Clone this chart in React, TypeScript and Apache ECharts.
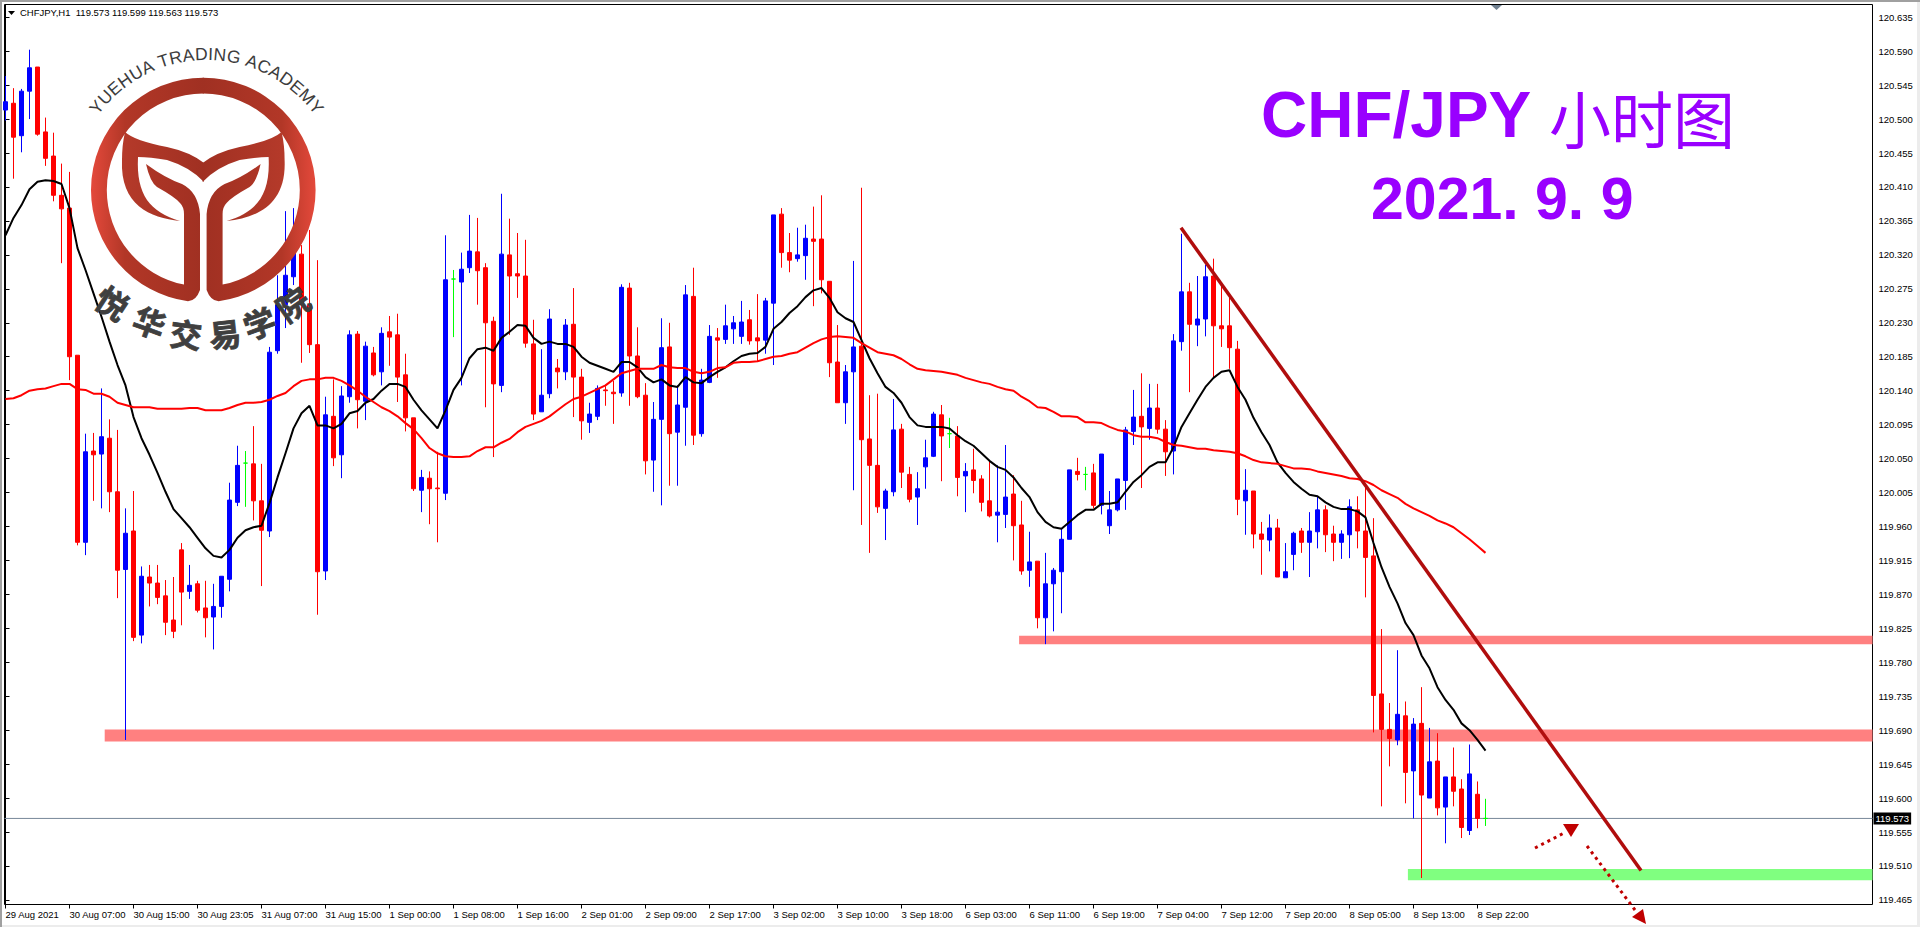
import React, { useEffect, useRef } from "react";
import * as echarts from "echarts";

const opens = [120.512,120.521,120.478,120.537,120.569,120.483,120.451,120.399,120.382,120.187,
119.939,120.060,120.056,120.077,120.006,119.903,119.954,119.816,119.893,119.885,
119.868,119.836,119.929,119.874,119.884,119.852,119.840,119.854,119.890,119.992,
120.044,120.043,119.994,119.954,120.193,120.254,120.291,120.321,120.254,120.201,
119.901,120.106,120.055,120.132,120.215,120.126,120.190,120.165,120.218,120.214,
120.161,120.104,120.008,120.024,120.011,120.004,120.288,120.284,120.303,120.324,
120.303,120.232,120.147,120.320,120.295,120.292,120.202,120.112,120.136,120.170,
120.165,120.228,120.158,120.098,120.106,120.141,120.138,120.137,120.276,120.186,
120.134,120.048,120.102,120.198,120.085,120.118,120.265,120.083,120.151,120.210,
120.208,120.222,120.212,120.234,120.210,120.207,120.256,120.374,120.323,120.315,
120.319,120.341,120.341,120.285,120.178,120.124,120.165,120.199,120.076,120.041,
119.984,120.006,120.089,120.029,119.999,120.039,120.053,120.108,120.083,120.080,
120.027,120.035,120.023,119.994,119.975,119.976,120.003,119.962,119.902,119.914,
119.839,119.884,119.900,119.943,120.033,120.029,120.031,119.988,119.961,119.982,
120.021,120.086,120.106,120.090,120.117,120.089,120.060,120.205,120.271,120.227,
120.235,120.292,120.226,120.226,120.195,119.994,120.007,119.950,119.942,119.958,
119.892,119.923,119.954,119.939,119.953,119.982,119.950,119.939,119.949,119.982,
119.954,119.921,119.738,119.691,119.677,119.709,119.636,119.699,119.600,119.649,
119.588,119.628,119.612,119.557,119.605,119.573];

const closes = [120.523,120.476,120.537,120.568,120.480,120.448,120.399,120.381,120.185,119.939,
120.059,120.055,120.079,120.006,119.902,119.951,119.813,119.894,119.885,119.866,
119.833,119.821,119.873,119.882,119.849,119.839,119.854,119.894,119.995,120.041,
120.044,119.994,119.955,120.191,120.254,120.293,120.323,120.254,120.201,119.900,
120.108,120.051,120.133,120.214,120.128,120.199,120.161,120.216,120.211,120.158,
120.104,120.010,120.025,120.010,120.010,120.287,120.288,120.301,120.325,120.299,
120.230,120.149,120.321,120.292,120.292,120.203,120.109,120.134,120.235,120.165,
120.227,120.158,120.100,120.109,120.143,120.140,120.136,120.277,120.186,120.132,
120.047,120.102,120.197,120.083,120.121,120.267,120.081,120.154,120.212,120.207,
120.226,120.230,120.231,120.206,120.206,120.259,120.373,120.323,120.313,120.320,
120.342,120.338,120.287,120.177,120.124,120.165,120.198,120.075,120.041,119.986,
120.007,120.088,120.032,119.996,120.010,120.051,120.109,120.080,120.083,120.025,
120.033,120.021,119.992,119.974,119.979,119.999,119.961,119.901,119.913,119.839,
119.884,119.902,119.943,120.035,120.029,120.029,119.988,120.056,119.982,120.023,
120.088,120.105,120.092,120.117,120.089,120.059,120.206,120.271,120.228,120.235,
120.291,120.226,120.222,120.197,119.996,120.008,119.950,119.943,119.958,119.893,
119.900,119.951,119.939,119.954,119.982,119.949,119.939,119.950,119.986,119.954,
119.919,119.736,119.691,119.679,119.711,119.634,119.698,119.604,119.648,119.587,
119.628,119.609,119.561,119.632,119.573,119.573];

const highs = [120.557,120.541,120.540,120.592,120.569,120.502,120.482,120.441,120.430,120.187,
120.083,120.084,120.143,120.102,120.088,119.984,120.007,119.907,119.909,119.909,
119.889,119.893,119.938,119.909,119.888,119.888,119.884,119.894,120.018,120.067,
120.060,120.093,120.043,120.198,120.293,120.378,120.382,120.333,120.353,120.313,
120.132,120.155,120.146,120.220,120.219,120.205,120.198,120.224,120.239,120.242,
120.189,120.104,120.035,120.033,120.059,120.346,120.300,120.323,120.373,120.369,
120.309,120.238,120.401,120.368,120.349,120.340,120.234,120.195,120.248,120.182,
120.235,120.276,120.169,120.124,120.147,120.146,120.153,120.281,120.283,120.224,
120.150,120.125,120.236,120.230,120.147,120.280,120.303,120.169,120.227,120.223,
120.254,120.239,120.259,120.247,120.268,120.263,120.373,120.382,120.349,120.356,
120.360,120.384,120.399,120.285,120.227,120.174,120.312,120.409,120.134,120.136,
120.010,120.129,120.096,120.039,120.032,120.075,120.112,120.121,120.104,120.093,
120.044,120.063,120.028,120.047,120.041,120.068,120.028,119.994,119.953,119.914,
119.925,119.905,119.958,120.035,120.051,120.039,120.043,120.056,120.007,120.023,
120.092,120.141,120.163,120.149,120.149,120.101,120.215,120.348,120.283,120.292,
120.307,120.315,120.283,120.263,120.206,120.036,120.007,119.966,119.976,119.970,
119.938,119.953,119.958,119.979,120.000,119.988,119.961,119.955,119.996,120.000,
120.014,119.971,119.824,119.726,119.796,119.728,119.706,119.747,119.693,119.686,
119.628,119.667,119.625,119.671,119.622,119.599];

const lows = [120.498,120.421,120.456,120.500,120.478,120.438,120.391,120.309,120.154,119.935,
119.922,119.994,119.984,119.979,119.865,119.677,119.808,119.805,119.854,119.857,
119.816,119.812,119.829,119.864,119.846,119.813,119.797,119.839,119.874,119.987,
119.986,119.968,119.881,119.946,120.189,120.223,120.280,120.177,120.190,119.843,
119.889,120.040,120.024,120.124,120.090,120.101,120.159,120.147,120.173,120.125,
120.086,120.007,119.979,119.963,119.939,119.995,120.211,120.147,120.296,120.254,
120.118,120.052,120.138,120.214,120.263,120.197,120.101,120.112,120.130,120.143,
120.154,120.105,120.075,120.084,120.101,120.120,120.096,120.132,120.120,120.130,
120.029,120.006,119.988,120.014,120.014,120.067,120.068,120.079,120.150,120.157,
120.202,120.202,120.202,120.201,120.179,120.189,120.174,120.303,120.297,120.311,
120.287,120.252,120.269,120.158,120.124,120.096,120.008,119.962,119.925,119.978,
119.942,120.000,120.011,119.992,119.962,120.010,120.052,120.020,120.064,120.000,
119.979,120.004,119.980,119.972,119.939,119.958,119.915,119.896,119.880,119.825,
119.804,119.821,119.845,119.943,120.021,120.008,119.984,119.976,119.950,119.980,
119.982,120.068,120.011,120.075,120.083,120.027,120.029,120.193,120.138,120.199,
120.212,120.157,120.198,120.169,119.975,119.949,119.931,119.896,119.927,119.893,
119.892,119.902,119.925,119.893,119.931,119.926,119.914,119.917,119.918,119.931,
119.866,119.687,119.589,119.642,119.670,119.593,119.573,119.494,119.600,119.577,
119.540,119.589,119.547,119.551,119.560,119.563];

const fastMA = [120.346,120.369,120.386,120.407,120.417,120.419,120.418,120.414,120.382,120.329,
120.300,120.269,120.238,120.205,120.174,120.147,120.105,120.077,120.055,120.031,
120.006,119.983,119.971,119.959,119.945,119.931,119.921,119.919,119.929,119.945,
119.955,119.959,119.961,119.991,120.025,120.057,120.090,120.110,120.120,120.094,
120.094,120.090,120.096,120.110,120.113,120.124,120.129,120.140,120.149,120.149,
120.145,120.128,120.114,120.102,120.090,120.114,120.141,120.157,120.183,120.195,
120.197,120.193,120.210,120.218,120.227,120.226,120.210,120.202,120.205,120.202,
120.202,120.198,120.185,120.177,120.173,120.169,120.165,120.178,120.178,120.171,
120.158,120.151,120.155,120.147,120.145,120.158,120.151,120.150,120.158,120.165,
120.171,120.179,120.186,120.189,120.190,120.198,120.222,120.231,120.243,120.252,
120.264,120.273,120.276,120.263,120.244,120.236,120.231,120.207,120.183,120.163,
120.145,120.137,120.124,120.105,120.094,120.092,120.092,120.092,120.090,120.081,
120.073,120.067,120.057,120.047,120.039,120.035,120.025,120.011,119.999,119.979,
119.966,119.959,119.957,119.966,119.975,119.982,119.982,119.990,119.990,119.992,
120.006,120.019,120.028,120.039,120.045,120.045,120.065,120.092,120.110,120.128,
120.145,120.157,120.165,120.167,120.145,120.128,120.104,120.085,120.068,120.045,
120.031,120.019,120.010,120.002,120.000,119.992,119.986,119.983,119.983,119.980,
119.972,119.938,119.906,119.880,119.858,119.832,119.816,119.789,119.772,119.747,
119.730,119.717,119.699,119.690,119.677,119.663];

const slowMA = [120.129,120.130,120.134,120.140,120.142,120.143,120.146,120.149,120.149,120.142,
120.141,120.136,120.136,120.132,120.124,120.121,120.118,120.118,120.118,120.116,
120.116,120.116,120.116,120.117,120.117,120.114,120.114,120.114,120.117,120.121,
120.124,120.124,120.125,120.128,120.133,120.137,120.146,120.153,120.155,120.155,
120.157,120.157,120.153,120.147,120.140,120.132,120.125,120.118,120.113,120.106,
120.097,120.089,120.077,120.064,120.057,120.053,120.052,120.052,120.053,120.060,
120.065,120.065,120.071,120.076,120.085,120.092,120.096,120.100,120.106,120.114,
120.122,120.129,120.132,120.137,120.142,120.147,120.155,120.163,120.166,120.169,
120.169,120.169,120.174,120.171,120.170,120.170,120.165,120.163,120.165,120.170,
120.171,120.177,120.178,120.178,120.179,120.182,120.185,120.186,120.189,120.191,
120.197,120.203,120.208,120.211,120.212,120.211,120.210,120.203,120.197,120.191,
120.189,120.187,120.182,120.175,120.169,120.167,120.166,120.165,120.163,120.161,
120.157,120.154,120.151,120.149,120.145,120.142,120.140,120.132,120.126,120.118,
120.117,120.112,120.106,120.106,120.105,120.098,120.098,120.097,120.092,120.088,
120.086,120.081,120.079,120.079,120.077,120.072,120.068,120.067,120.065,120.063,
120.063,120.061,120.060,120.059,120.057,120.053,120.048,120.045,120.044,120.043,
120.040,120.037,120.037,120.036,120.033,120.031,120.029,120.027,120.024,120.023,
120.020,120.015,120.008,120.003,119.998,119.990,119.984,119.979,119.974,119.968,
119.964,119.959,119.951,119.943,119.934,119.925];

const xLabels = ["29 Aug 2021","30 Aug 07:00","30 Aug 15:00","30 Aug 23:05","31 Aug 07:00","31 Aug 15:00",
"1 Sep 00:00","1 Sep 08:00","1 Sep 16:00","2 Sep 01:00","2 Sep 09:00","2 Sep 17:00","3 Sep 02:00","3 Sep 10:00",
"3 Sep 18:00","6 Sep 03:00","6 Sep 11:00","6 Sep 19:00","7 Sep 04:00","7 Sep 12:00","7 Sep 20:00","8 Sep 05:00",
"8 Sep 13:00","8 Sep 22:00"];

const yTicks = [120.635,120.59,120.545,120.5,120.455,120.41,120.365,120.32,120.275,120.23,120.185,120.14,120.095,
120.05,120.005,119.96,119.915,119.87,119.825,119.78,119.735,119.69,119.645,119.6,119.555,119.51,119.465];

const lastPrice = 119.573;
const trendLine = [[146.94,120.356],[204.44,119.504]];
const redZoneUpper = [[126.7,119.815],[233.375,119.804]];
const redZoneLower = [[12.4,119.691],[233.375,119.675]];
const greenZone = [[175.3,119.506],[233.375,119.491]];

const priceMin = 119.4589;
const priceMax = 120.6519;
const slotCount = 234;
const tickStep = 8;

const logoLetters = "YUEHUA TRADING ACADEMY";
const letterWidths = [.667,.722,.667,.722,.722,.667,.278,.611,.722,.667,.722,.278,.722,.778,.278,.667,.722,.667,.722,.667,.833,.667];
const logoChinese = ["悦","华","交","易","学","院"];
const chinesePos = [[113,302,33],[150,321,20],[186,333,7],[225,333,-6],[259,322,-20],[292,303,-35]];

const ringHalf = "M204 77.7 A112.3 112.3 0 0 0 91 190 A112.3 112.3 0 0 0 188 301.3 Q196 301 200 290 L200 214 Q198 192 182 184 Q165 178 146 164 Q150 182 157 187 Q175 197 180 203 Q184 207 184 214 L184 284.6 A96.5 96.5 0 0 1 106.8 190 A96.5 96.5 0 0 1 204 93.5 Z";
const crownHalf = "M125 132 Q135 141 167 147 Q190 152 204 163 L204 182 Q190 167 167 160 Q150 157 138 157 C136 195 150 212 180 221 C150 218 120 205 122 160 Q122 145 125 132 Z";
echarts.graphic.registerShape("ringHalf", echarts.graphic.extendPath(ringHalf as any, {} as any) as any);
echarts.graphic.registerShape("crownHalf", echarts.graphic.extendPath(crownHalf as any, {} as any) as any);

const FONT = '"Liberation Sans", Arial, sans-serif';
const CJK = '"Noto Sans CJK SC", sans-serif';
const ARROW = "#c00000";

function logoGraphics(): any[] {
  const els: any[] = [];
  const grad = () => new echarts.graphic.LinearGradient(0, 0, 1, 0, [
    { offset: 0, color: "#e4493b" },
    { offset: 0.3, color: "#b23727" },
    { offset: 1, color: "#a03022" },
  ]);
  const crownGrad = () => new echarts.graphic.LinearGradient(0, 0, 1, 0, [
    { offset: 0, color: "#b53a2a" },
    { offset: 1, color: "#a03022" },
  ]);
  els.push({ type: "ringHalf", z: 100, style: { fill: grad() } });
  els.push({ type: "ringHalf", z: 100, x: 406.6, scaleX: -1, style: { fill: grad() } });
  els.push({ type: "crownHalf", z: 100, style: { fill: crownGrad() } });
  els.push({ type: "crownHalf", z: 100, x: 406.6, scaleX: -1, style: { fill: crownGrad() } });
  const total = letterWidths.reduce((a, b) => a + b, 0);
  const size = 17.5, r = 131, cx = 206.5, cy = 194;
  let cum = 0;
  logoLetters.split("").forEach((ch, i) => {
    const w = letterWidths[i];
    const theta = ((cum + w / 2 - total / 2) * size) / r;
    cum += w;
    if (ch === " ") return;
    els.push({
      type: "text", z: 101,
      x: cx + r * Math.sin(theta), y: cy - r * Math.cos(theta), rotation: -theta,
      style: { text: ch, fill: "#3c3c3c", font: `${size}px ${FONT}`, textAlign: "center", textVerticalAlign: "bottom" },
    });
  });
  logoChinese.forEach((ch, i) => {
    const [x, y, deg] = chinesePos[i];
    els.push({
      type: "text", z: 101, x, y, rotation: (-deg * Math.PI) / 180,
      style: { text: ch, fill: "#3f3f3f", stroke: "#3f3f3f", lineWidth: 0.8, font: `bold 32px ${CJK}`, textAlign: "center", textVerticalAlign: "middle" },
    });
  });
  return els;
}

function annotationGraphics(): any[] {
  return [
    { type: "rect", z: 0, shape: { x: 0, y: 0, width: 1920, height: 2 }, style: { fill: "#a0a0a0" } },
    { type: "rect", z: 0, shape: { x: 0, y: 0, width: 2, height: 927 }, style: { fill: "#a0a0a0" } },
    { type: "rect", z: 0, shape: { x: 1917, y: 2, width: 3, height: 925 }, style: { fill: "#ececec" } },
    { type: "rect", z: 0, shape: { x: 2, y: 925, width: 1918, height: 2 }, style: { fill: "#ececec" } },
    { type: "polygon", z: 90, shape: { points: [[8, 11], [15, 11], [11.5, 15]] }, style: { fill: "#000" } },
    { type: "text", z: 90, x: 20, y: 12.5, style: { text: "CHFJPY,H1  119.573 119.599 119.563 119.573", fill: "#000", font: `9.5px ${FONT}`, textVerticalAlign: "middle" } },
    { type: "polygon", z: 90, shape: { points: [[1491, 5], [1502, 5], [1496.5, 10]] }, style: { fill: "#708090" } },
    { type: "text", z: 95, x: 1261, y: 115, style: { text: "CHF/JPY", fill: "#9900ff", font: `bold 64px ${FONT}`, textVerticalAlign: "middle" } },
    { type: "text", z: 95, x: 1549, y: 117, style: { text: "小时图", fill: "#9900ff", font: `62px ${CJK}`, textVerticalAlign: "middle" } },
    { type: "text", z: 95, x: 1371, y: 199, style: { text: "2021. 9. 9", fill: "#9900ff", font: `bold 59px ${FONT}`, textVerticalAlign: "middle" } },
    { type: "line", z: 95, shape: { x1: 1535, y1: 848, x2: 1566, y2: 832 }, style: { stroke: ARROW, lineWidth: 3, lineDash: [3, 4] } },
    { type: "polygon", z: 95, shape: { points: [[1563, 824], [1579, 824], [1571, 837]] }, style: { fill: ARROW } },
    { type: "line", z: 95, shape: { x1: 1587, y1: 846, x2: 1635, y2: 910 }, style: { stroke: ARROW, lineWidth: 3, lineDash: [3, 4] } },
    { type: "polygon", z: 95, shape: { points: [[1632, 917], [1643, 909], [1646, 924]] }, style: { fill: ARROW } },
    ...logoGraphics(),
  ];
}

function zone(pair: number[][], color: string) {
  return [
    { xAxis: pair[0][0], yAxis: pair[0][1], itemStyle: { color } },
    { xAxis: pair[1][0], yAxis: pair[1][1] },
  ];
}

export default function App() {
  const ref = useRef<HTMLDivElement>(null);
  useEffect(() => {
    document.body.style.margin = "0";
    document.body.style.background = "#fff";
    const chart = echarts.init(ref.current!, undefined, { renderer: "svg" });
    const slots = Array.from({ length: slotCount }, (_, i) => String(i));
    const showSlot = (i: number) => i % tickStep === 0 && i / tickStep < xLabels.length;
    const axisText = { color: "#000", fontFamily: FONT, fontSize: 9.5 };
    chart.setOption({
      animation: false,
      backgroundColor: "#fff",
      grid: [
        { left: 5.5, top: 4.5, width: 1864, height: 900 },
        { left: 4.5, top: 4.5, width: 1868, height: 900, show: true, borderColor: "#000", borderWidth: 1, backgroundColor: "transparent" },
      ],
      xAxis: [
        {
          type: "category", gridIndex: 0, data: slots, boundaryGap: false,
          axisLine: { show: false },
          axisTick: { show: true, length: 4, interval: (i: number) => showSlot(i), lineStyle: { color: "#000" } },
          axisLabel: {
            ...axisText, align: "left", margin: 5, interval: (i: number) => showSlot(i),
            formatter: (_: string, i: number) => xLabels[i / tickStep] ?? "",
          },
          splitLine: { show: false },
        },
        { type: "value", gridIndex: 1, min: -0.125, max: 233.375, show: false, splitLine: { show: false } },
      ],
      yAxis: [
        { type: "value", gridIndex: 0, min: priceMin, max: priceMax, show: false, splitLine: { show: false } },
        {
          type: "value", gridIndex: 1, position: "right", min: priceMin, max: priceMax,
          axisLine: { show: true, lineStyle: { color: "#000" } },
          axisTick: { show: true, length: 4, customValues: yTicks, lineStyle: { color: "#000" } },
          axisLabel: { ...axisText, margin: 6, customValues: yTicks, formatter: (v: number) => v.toFixed(3) },
          splitLine: { show: false },
        },
      ],
      series: [
        {
          type: "line", xAxisIndex: 1, yAxisIndex: 1, z: 1, data: [], silent: true,
          markArea: {
            silent: true, z: 1,
            data: [zone(redZoneUpper, "#ff8080"), zone(redZoneLower, "#ff8080"), zone(greenZone, "#80ff80")],
          },
        },
        {
          type: "line", xAxisIndex: 1, yAxisIndex: 1, z: 1, showSymbol: false, silent: true,
          data: [[-0.125, lastPrice], [233.375, lastPrice]],
          lineStyle: { color: "#778899", width: 1 },
          markPoint: {
            silent: true, symbol: "rect", symbolSize: 0,
            data: [{ coord: [233.375, lastPrice] }],
            label: {
              show: true, position: "right", distance: 1, formatter: lastPrice.toFixed(3),
              color: "#fff", backgroundColor: "#000", padding: [1, 2], fontFamily: FONT, fontSize: 9.5,
            },
          },
        },
        {
          type: "candlestick", xAxisIndex: 0, yAxisIndex: 0, z: 2, barWidth: 4,
          data: opens.map((o, i) => [o, closes[i], lows[i], highs[i]]),
          itemStyle: {
            color: "#0000ff", color0: "#ff0000", borderColor: "#0000ff", borderColor0: "#ff0000",
            borderColorDoji: "#00ff00", borderWidth: 1,
          },
        },
        {
          type: "line", name: "fast", xAxisIndex: 0, yAxisIndex: 0, z: 3, data: fastMA, showSymbol: false, silent: true,
          lineStyle: { color: "#000", width: 2 },
        },
        {
          type: "line", name: "slow", xAxisIndex: 0, yAxisIndex: 0, z: 3, data: slowMA, showSymbol: false, silent: true,
          lineStyle: { color: "#ff0000", width: 2 },
        },
        {
          type: "line", xAxisIndex: 1, yAxisIndex: 1, z: 4, data: trendLine, showSymbol: false, silent: true,
          lineStyle: { color: "#b00d0d", width: 3.5 },
        },
      ],
      graphic: { elements: annotationGraphics() },
    });
    return () => chart.dispose();
  }, []);
  return <div ref={ref} style={{ position: "absolute", left: 0, top: 0, width: 1920, height: 927 }} />;
}
